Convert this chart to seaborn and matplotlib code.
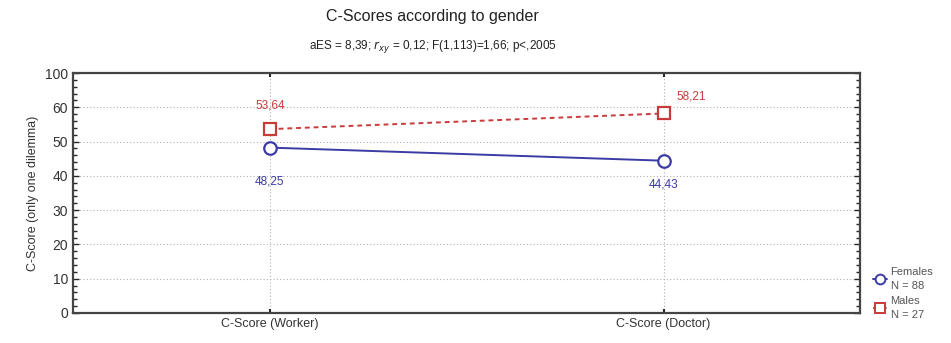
import numpy as np
import pandas as pd
import seaborn as sns
import matplotlib.pyplot as plt
from matplotlib.ticker import MultipleLocator

conditions = ["C-Score (Worker)", "C-Score (Doctor)"]
females = [48.25, 44.43]
males = [53.64, 58.21]
female_labels = ["48,25", "44,43"]
male_labels = ["53,64", "58,21"]
ytick_vals = [0, 10, 20, 30, 40, 50, 60, 70]
ytick_text = ["0", "10", "20", "30", "40", "50", "60", "100"]

df = pd.DataFrame({
    "condition": conditions * 2,
    "score": females + males,
    "group": ["Females\nN = 88"] * 2 + ["Males\nN = 27"] * 2,
})
df["pos"] = df["condition"].map({c: i for i, c in enumerate(conditions)})

sns.set_style("white")
plt.rcParams["font.family"] = ["Liberation Sans", "DejaVu Sans"]

blue = "#3b3ba6"
red = "#c93a3a"

fig = plt.figure(figsize=(9.51, 3.43), dpi=100)
ax = fig.add_axes([0.0768, 0.0875, 0.828, 0.6995])

sns.lineplot(data=df, x="pos", y="score", hue="group", style="group",
             palette=[blue, red], markers=["o", "s"], dashes=[(None, None), (2.5, 2)],
             markersize=9, linewidth=1.4, ax=ax)

# open markers with coloured edges
for ln in ax.lines:
    ln.set_markerfacecolor("white")
    ln.set_markeredgecolor(ln.get_color())
    ln.set_markeredgewidth(1.6)

# value labels
ax.text(0, females[0] - 10, female_labels[0], color=blue, fontsize=8.5, ha="center", va="center")
ax.text(1, females[1] - 7, female_labels[1], color=blue, fontsize=8.5, ha="center", va="center")
ax.text(0, males[0] + 7, male_labels[0], color=red, fontsize=8.5, ha="center", va="center")
ax.text(1.07, males[1] + 5, male_labels[1], color=red, fontsize=8.5, ha="center", va="center")

ax.set_xlim(-0.5, 1.5)
ax.set_ylim(0, 70)
ax.set_xticks([0, 1])
ax.set_xticklabels(conditions, fontsize=9, color="#333333")
ax.set_yticks(ytick_vals)
ax.set_yticklabels(ytick_text, fontsize=10, color="#333333")
ax.yaxis.set_minor_locator(MultipleLocator(2))
ax.tick_params(axis="y", which="both", direction="in", left=True, right=True, length=3, width=1)
ax.tick_params(axis="y", which="major", length=4)
ax.tick_params(axis="x", direction="in", bottom=True, top=True, length=3, width=1.5)
ax.grid(True, axis="both", which="major", linestyle=(0, (1, 2)), color="#b0b0b0", linewidth=0.8)
for s in ax.spines.values():
    s.set_color("#444444")
    s.set_linewidth(1.6)

ax.set_xlabel("")
ax.set_ylabel("C-Score (only one dilemma)", fontsize=9, color="#333333")

leg = ax.legend(loc="lower left", bbox_to_anchor=(1.003, -0.07), frameon=False,
                fontsize=8, handlelength=1.3, handletextpad=0.3, labelspacing=0.45)
for h in leg.legend_handles:
    h.set_markerfacecolor("white")
    h.set_markeredgecolor(h.get_color())
    h.set_markeredgewidth(1.4)
    h.set_markersize(7)
for t in leg.get_texts():
    t.set_color("#555555")
    t.set_linespacing(1.5)

fig.text(0.455, 0.94, "C-Scores according to gender", ha="center", fontsize=11.5, color="#222222")
fig.text(0.455, 0.858, "aES = 8,39; $r_{xy}$ = 0,12; F(1,113)=1,66; p<,2005", ha="center",
         fontsize=8.5, color="#222222")

fig.savefig("out.png", dpi=100)
